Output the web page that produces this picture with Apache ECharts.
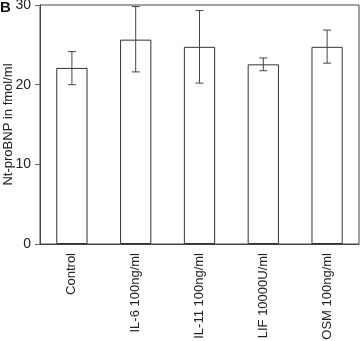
<!DOCTYPE html>
<html>
<head>
<meta charset="utf-8">
<script src="https://cdn.jsdelivr.net/npm/echarts@6/dist/echarts.min.js"></script>
<style>html,body{margin:0;padding:0;background:#fff;}#c{width:360px;height:341px;}</style>
</head>
<body>
<div id="c"></div>
<script>
const categories = ['Control', 'IL-6 100ng/ml', 'IL-11 100ng/ml', 'LIF 10000U/ml', 'OSM 100ng/ml'];
const means = [22.1, 25.65, 24.75, 22.55, 24.75];
const errLow = [20.0, 21.6, 20.2, 21.75, 22.7];
const errHigh = [24.15, 29.8, 29.3, 23.35, 26.85];
const yTicks = [0, 10, 20, 30];

const chart = echarts.init(document.getElementById('c'));
const font = 'Liberation Sans, Arial, sans-serif';
chart.setOption({
  animation: false,
  title: { text: 'B', left: 0, top: 0, padding: 0, textStyle: { fontFamily: font, fontWeight: 'bold', fontSize: 15, color: '#111' } },
  grid: { left: 40, right: 1, top: 5, bottom: 97, show: true, borderColor: '#444', borderWidth: 1, outerBoundsMode: 'none', containLabel: false },
  xAxis: {
    type: 'category', data: categories,
    axisLine: { show: true, lineStyle: { color: '#444' } },
    axisTick: { show: false },
    axisLabel: { rotate: 90, fontFamily: font, fontSize: 13, color: '#222', margin: 9 }
  },
  yAxis: {
    type: 'value', min: yTicks[0], max: yTicks[yTicks.length - 1], interval: 10,
    name: 'Nt-proBNP in fmol/ml', nameLocation: 'middle', nameGap: 25, nameMoveOverlap: false,
    nameTextStyle: { fontFamily: font, fontSize: 13, color: '#222' },
    axisLine: { show: true, lineStyle: { color: '#444' } },
    axisTick: { show: true, length: 5, lineStyle: { color: '#666' } },
    axisLabel: { fontFamily: font, fontSize: 14, color: '#222', margin: 9 },
    splitLine: { show: false }
  },
  series: [
    {
      type: 'bar', data: means, barWidth: '49%',
      itemStyle: { color: '#fff', borderColor: '#333', borderWidth: 1 }
    },
    {
      type: 'custom',
      data: categories.map((c, i) => [i, errLow[i], errHigh[i]]),
      renderItem: function (params, api) {
        const lo = api.coord([api.value(0), api.value(1)]);
        const hi = api.coord([api.value(0), api.value(2)]);
        const w = 4;
        const st = { stroke: '#444', lineWidth: 1 };
        return {
          type: 'group', children: [
            { type: 'line', shape: { x1: hi[0], y1: hi[1], x2: lo[0], y2: lo[1] }, style: st },
            { type: 'line', shape: { x1: hi[0] - w, y1: hi[1], x2: hi[0] + w, y2: hi[1] }, style: st },
            { type: 'line', shape: { x1: lo[0] - w, y1: lo[1], x2: lo[0] + w, y2: lo[1] }, style: st }
          ]
        };
      },
      z: 10
    }
  ]
});
</script>
</body>
</html>
